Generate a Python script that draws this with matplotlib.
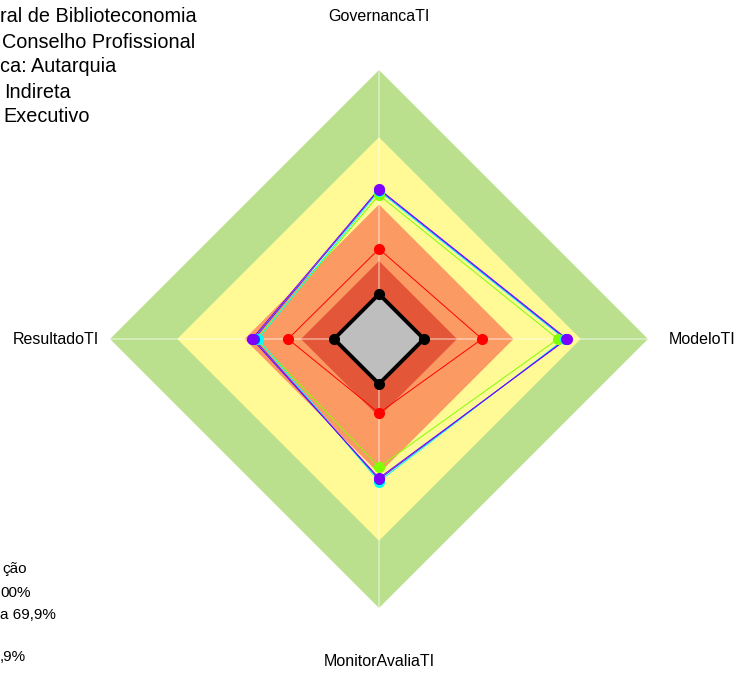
import matplotlib
matplotlib.use('Agg')  # No display required

import matplotlib.pyplot as plt
import numpy as np

plt.rcParams['font.family'] = ['Liberation Sans', 'DejaVu Sans']

# ─────────────────────────────────────────────
# Data
# ─────────────────────────────────────────────
categories = ['GovernancaTI', 'ModeloTI', 'MonitorAvaliaTI', 'ResultadoTI']

# classification bands (outer limit of each band)
band_limits = [1.0, 0.75, 0.5, 0.29]
band_colors = ['#BAE08E', '#FFFA96', '#FC9A64', '#E35738']

# series (order = drawing order)
serie_vermelha = [0.335, 0.383, 0.275, 0.338]
serie_verde = [0.535, 0.665, 0.476, 0.455]
serie_ciano = [0.550, 0.690, 0.530, 0.450]
serie_azul = [0.555, 0.695, 0.522, 0.465]
serie_roxa = [0.558, 0.699, 0.517, 0.472]
serie_orgao = [0.167, 0.167, 0.167, 0.167]

series = [
    (serie_vermelha, '#FF0000'),
    (serie_verde, '#80FF00'),
    (serie_ciano, '#00FFFF'),
    (serie_azul, '#3030FF'),
    (serie_roxa, '#8000FF'),
]

# header text as visible in the picture (cut at the left border)
titulo_linhas = [
    'ral de Biblioteconomia',
    'Conselho Profissional',
    'ca: Autarquia',
    'Indireta',
    'Executivo',
]
titulo_x_px = [0, 2, 0, 4, 3]

# legend text as visible in the picture
legenda_linhas = ['ção', '00%', 'a 69,9%', ',9%']
legenda_x_px = [2, 0, 0, 0]
legenda_y_px = [569, 593, 615, 657]

W, H = 737, 673

# ─────────────────────────────────────────────
# Chart
# ─────────────────────────────────────────────
fig = plt.figure(figsize=(W / 100, H / 100), dpi=100)

cx, cy, R = 379, 339, 269
ax = fig.add_axes([(cx - R) / W, (H - cy - R) / H, 2 * R / W, 2 * R / H],
                  projection='polar')
ax.set_theta_offset(np.pi / 2)
ax.set_theta_direction(-1)
ax.set_ylim(0, 1)
ax.axis('off')

angles = np.linspace(0, 2 * np.pi, len(categories), endpoint=False)
closed_angles = np.append(angles, angles[0])


def close(vals):
    return np.append(vals, vals[0])


# bands
for lim, col in zip(band_limits, band_colors):
    ax.fill(closed_angles, close([lim] * len(categories)), color=col, lw=0, zorder=1)

# axis lines
for a in angles:
    ax.plot([a, a], [0, 1], color='white', alpha=0.45, lw=1.2, zorder=2)

# series
for vals, col in series:
    ax.plot(closed_angles, close(vals), color=col, lw=0.7, zorder=3)
    ax.plot(angles, vals, 'o', color=col, markersize=7, zorder=4)

ax.fill(closed_angles, close(serie_orgao), color='#BEBEBE', zorder=5)
ax.plot(closed_angles, close(serie_orgao), color='black', lw=2.8, zorder=6)
ax.plot(angles, serie_orgao, 'o', color='black', markersize=7, zorder=7)

# category labels
for a, lab in zip(angles, categories):
    ax.text(a, 1.2, lab, ha='center', va='center', fontsize=11.5, clip_on=False)

# header text
for i, (txt, xs) in enumerate(zip(titulo_linhas, titulo_x_px)):
    fig.text(xs / W, 1 - (17 + 25 * i) / H, txt, ha='left', va='center', fontsize=14.3)

# legend text
for txt, xs, yp in zip(legenda_linhas, legenda_x_px, legenda_y_px):
    fig.text(xs / W, 1 - yp / H, txt, ha='left', va='center', fontsize=11)

fig.savefig('out.png', dpi=100)
